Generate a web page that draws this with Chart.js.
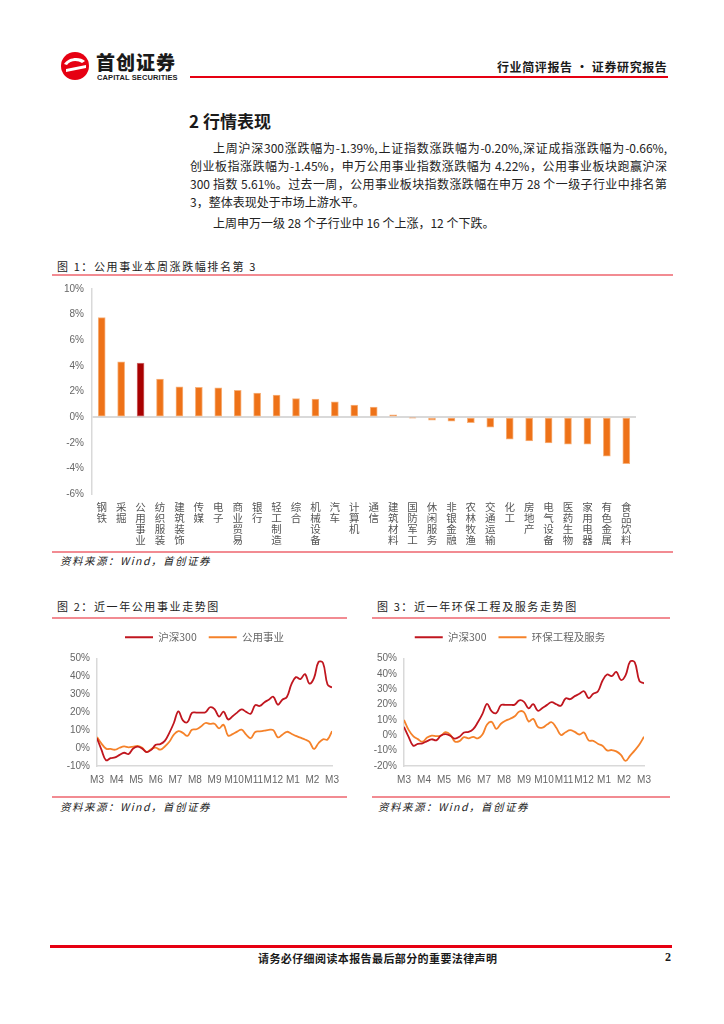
<!DOCTYPE html>
<html><head><meta charset="utf-8">
<script src="https://cdn.jsdelivr.net/npm/chart.js@4.4.1/dist/chart.umd.min.js"></script>
<style>
html,body{margin:0;padding:0;background:#fff}
body{width:724px;height:1024px;position:relative;overflow:hidden;font-family:"Noto Sans CJK SC",sans-serif;color:#1a1a1a}
.a{position:absolute;white-space:nowrap}
.hline{position:absolute;height:0}
.ln{position:absolute;left:190px;width:477px;font-size:12px;line-height:17px;text-align:justify;text-align-last:justify;white-space:nowrap;color:#222}
.ft{font-size:11px;letter-spacing:1.6px;color:#222}
.src{font-size:10.5px;font-style:italic;letter-spacing:1.5px;color:#222}
canvas{position:absolute}
</style></head><body>

<!-- header -->
<svg class="a" style="left:60px;top:51px" width="30" height="30" viewBox="0 0 30 30">
  <circle cx="15" cy="15" r="14" fill="#E60012"/>
  <path d="M4 13 C8 6,20 5,25 10 L22 12 C18 9,10 9,7 14 Z" fill="#fff"/>
  <path d="M6 18 L26 14 L26 17 L6 21 Z" fill="#fff"/>
</svg>
<div class="a" style="left:96px;top:51px;font-size:19px;font-weight:900;letter-spacing:1px;line-height:22px">首创证券</div>
<div class="a" style="left:97px;top:73px;font-family:'Liberation Sans',Arial,sans-serif;font-size:7.5px;font-weight:bold;line-height:9px;letter-spacing:0.1px">CAPITAL SECURITIES</div>
<div class="hline" style="left:190px;top:76px;width:478px;border-top:2px solid #E60012"></div>
<div class="a" style="left:497px;top:59px;font-size:12px;font-weight:bold;line-height:16px;letter-spacing:0.6px">行业简评报告 · 证券研究报告</div>

<!-- section text -->
<div class="a" style="left:189px;top:110px;font-size:17px;font-weight:bold;line-height:22px">2 行情表现</div>
<div class="ln" style="top:139px;left:213px;width:454px">上周沪深300涨跌幅为-1.39%,上证指数涨跌幅为-0.20%,深证成指涨跌幅为-0.66%,</div>
<div class="ln" style="top:157px">创业板指涨跌幅为-1.45%，申万公用事业指数涨跌幅为 4.22%，公用事业板块跑赢沪深</div>
<div class="ln" style="top:175px">300 指数 5.61%。过去一周，公用事业板块指数涨跌幅在申万 28 个一级子行业中排名第</div>
<div class="ln" style="top:193px;text-align-last:left">3，整体表现处于市场上游水平。</div>
<div class="ln" style="top:214px;left:213px;text-align-last:left">上周申万一级 28 个子行业中 16 个上涨，12 个下跌。</div>

<!-- figure 1 -->
<div class="a ft" style="left:57px;top:259px;line-height:15px">图 1：公用事业本周涨跌幅排名第 3</div>
<div class="hline" style="left:52px;top:274px;width:621px;border-top:2px solid #F28B92"></div>
<canvas id="bar" width="620" height="275" style="left:52px;top:275px"></canvas>
<div class="hline" style="left:52px;top:551px;width:621px;border-top:2px solid #F28B92"></div>
<div class="a src" style="left:60px;top:553px;line-height:15px">资料来源：Wind，首创证券</div>

<!-- figure 2 -->
<div class="a ft" style="left:57px;top:599px;line-height:15px">图 2：近一年公用事业走势图</div>
<div class="hline" style="left:52px;top:617px;width:295px;border-top:2px solid #F28B92"></div>
<canvas id="line1" width="295" height="172" style="left:52px;top:620px"></canvas>
<div class="hline" style="left:52px;top:796px;width:295px;border-top:2px solid #F28B92"></div>
<div class="a src" style="left:60px;top:799px;line-height:15px">资料来源：Wind，首创证券</div>

<!-- figure 3 -->
<div class="a ft" style="left:377px;top:599px;line-height:15px">图 3：近一年环保工程及服务走势图</div>
<div class="hline" style="left:372px;top:617px;width:298px;border-top:2px solid #F28B92"></div>
<canvas id="line2" width="298" height="172" style="left:372px;top:620px"></canvas>
<div class="hline" style="left:372px;top:796px;width:298px;border-top:2px solid #F28B92"></div>
<div class="a src" style="left:378px;top:799px;line-height:15px">资料来源：Wind，首创证券</div>

<!-- footer -->
<div class="hline" style="left:50px;top:945px;width:622px;border-top:3px solid #E60012"></div>
<div class="a" style="left:258px;top:951px;font-size:11px;font-weight:bold;line-height:15px;letter-spacing:0.4px">请务必仔细阅读本报告最后部分的重要法律声明</div>
<div class="a" style="left:665px;top:950px;font-family:'Liberation Serif',serif;font-size:12px;font-weight:bold;line-height:15px">2</div>

<script>
// ---------------- data ----------------
const industries = ['钢铁','采掘','公用事业','纺织服装','建筑装饰','传媒','电子','商业贸易','银行','轻工制造','综合','机械设备','汽车','计算机','通信','建筑材料','国防军工','休闲服务','非银金融','农林牧渔','交通运输','化工','房地产','电气设备','医药生物','家用电器','有色金属','食品饮料'];
const weeklyChange = [7.77,4.32,4.22,2.96,2.36,2.33,2.28,2.10,1.88,1.73,1.44,1.41,1.20,0.94,0.79,0.18,-0.05,-0.24,-0.31,-0.44,-0.78,-1.73,-1.86,-2.01,-2.12,-2.12,-3.04,-3.64];
const highlightIndustry = '公用事业';
const barTicks = {min:-6, max:10, step:2};

const monthLabels = ['M3','M4','M5','M6','M7','M8','M9','M10','M11','M12','M1','M2','M3'];
const hs300 = [5.5,-1,-6.8,-5.6,-5.2,-3.8,-2.6,-3.3,-0.2,0.8,-0.3,-2.2,-1.0,1.8,2.2,4.0,8.5,14,20.5,15.5,14.5,19.6,19.8,19.8,20,22.8,21.8,17.6,20.3,16.0,17.8,19.8,21.6,20.2,19.2,24,23.5,25.5,27,28.7,24.2,27,28.5,35.5,39.6,38.5,41.3,36,39,48,47.5,35.5,33.8];
const utilities = [6.2,2.5,-0.3,-0.5,-0.9,0.2,0.9,0.4,0.8,1.2,0.2,-2.2,-0.5,0.3,-0.9,0.9,3.5,7.5,9.5,8.5,6.8,10.2,10.5,12,14,13.5,13.6,11,13,7,7.8,9.2,10.3,7.5,5.5,9,9.3,9.7,10.2,10,6,7.5,9.1,8,6.8,5.8,4.8,3.5,-0.5,2.7,4.9,4.8,9.5];
const envService = [10.0,3.5,-0.5,-2.5,-4.2,-1.5,-0.2,-0.5,-0.3,2,0.5,-4,-3.8,-1.2,-2,-1,-2,0.5,7,8.7,4.2,7.5,9.5,10.8,12.4,15.5,15,9,10.7,5.5,5,7,8.5,4.9,0.2,2,3.3,2.2,0.5,1.8,-3.3,-3.6,-5.5,-6.8,-9.8,-9.6,-10.5,-12.8,-16.7,-13.2,-9.8,-6,-1];
const line1Ticks = {min:-10, max:50, step:10};
const line2Ticks = {min:-20, max:50, step:10};

// ---------------- charts ----------------
Chart.defaults.animation = false;
Chart.defaults.devicePixelRatio = 1;
Chart.defaults.font.family = "'Liberation Sans', Arial, sans-serif";
const gray = '#666666';
const axisGray = '#D9D9D9';
const cjk = "'Noto Sans CJK SC', sans-serif";

// legend helper: extra gap below legend and horizontal shift
const legendTweak = {
  id:'legendTweak',
  beforeInit(chart){
    const lg = chart.legend;
    if (!lg) return;
    const origFit = lg.fit.bind(lg);
    const extra = chart.options.plugins.legendTweak.extra || 0;
    lg.fit = function(){ origFit(); this.height += extra; };
  },
  beforeDraw(chart){
    const lg = chart.legend;
    const dx = chart.options.plugins.legendTweak.dx || 0;
    if (lg && dx && !lg._shifted){ lg.left += dx; lg.right += dx; lg._shifted = true; }
  }
};

new Chart(document.getElementById('bar'), {
  type:'bar',
  data:{
    labels: industries.map(s => s.split('')),
    datasets:[{
      data: weeklyChange,
      backgroundColor: industries.map(s => s===highlightIndustry ? '#A80000' : '#EE7218'),
      borderColor: industries.map(s => s===highlightIndustry ? '#D07070' : '#F7B27C'),
      borderWidth: 1,
      borderSkipped: false,
      barThickness: 7
    }]
  },
  options:{
    responsive:false,
    layout:{padding:{top:5,right:36,left:0,bottom:0}},
    plugins:{legend:{display:false},tooltip:{enabled:false}},
    scales:{
      x:{
        grid:{display:false, drawTicks:false},
        border:{display:false},
        ticks:{autoSkip:false,maxRotation:0,minRotation:0,padding:7,color:'#555',font:{family:cjk,size:10.5,lineHeight:1.07}},
        afterFit: s => { s.height = 56; }
      },
      y:{
        min:barTicks.min, max:barTicks.max,
        ticks:{stepSize:barTicks.step, callback:v => v+'%', color:gray, font:{size:10}, padding:8},
        grid:{drawTicks:false, lineWidth:2, color: c => c.tick && c.tick.value===0 ? axisGray : 'rgba(0,0,0,0)'},
        border:{color:axisGray, width:1.5},
        afterFit: s => { s.width = 40; }
      }
    }
  }
});

function trendChart(id, otherName, otherVals, otherColor, ticksCfg, yWidth, padRight, legendDx){
  const pts = arr => arr.map((v,i)=>({x:i,y:v}));
  const last = hs300.length - 1;
  return new Chart(document.getElementById(id), {
    type:'line',
    data:{datasets:[
      {label:'沪深300', data:pts(hs300), borderColor:'#C0161F', backgroundColor:'#C0161F', borderWidth:1.8, pointRadius:0, tension:0.4},
      {label:otherName, data:pts(otherVals), borderColor:otherColor, backgroundColor:otherColor, borderWidth:1.8, pointRadius:0, tension:0.4}
    ]},
    plugins:[legendTweak],
    options:{
      responsive:false,
      layout:{padding:{top:0,right:padRight,left:0,bottom:0}},
      plugins:{
        tooltip:{enabled:false},
        legendTweak:{extra:6, dx:legendDx},
        legend:{position:'top', labels:{usePointStyle:true, pointStyle:'line', pointStyleWidth:28, color:gray, font:{family:cjk,size:10.5}, padding:12, boxHeight:8}}
      },
      scales:{
        x:{
          type:'linear', min:0, max:last,
          afterBuildTicks: s => { s.ticks = monthLabels.map((_,i)=>({value:i*last/(monthLabels.length-1)})); },
          ticks:{autoSkip:false, maxRotation:0, color:gray, font:{size:10}, padding:8, callback:(v,i)=>monthLabels[i]},
          grid:{display:false, drawTicks:false},
          border:{color:axisGray, width:1.5},
          afterFit: s => { s.height = 26; }
        },
        y:{
          min:ticksCfg.min, max:ticksCfg.max,
          ticks:{stepSize:ticksCfg.step, callback:v=>v+'%', color:gray, font:{size:10}, padding:7},
          grid:{display:false, drawTicks:false},
          border:{color:axisGray, width:1.5},
          afterFit: s => { s.width = yWidth; }
        }
      }
    }
  });
}
trendChart('line1','公用事业',utilities,'#F5822A',line1Ticks,45,10,10);
trendChart('line2','环保工程及服务',envService,'#F5822A',line2Ticks,32,26,2);
</script>
</body></html>
